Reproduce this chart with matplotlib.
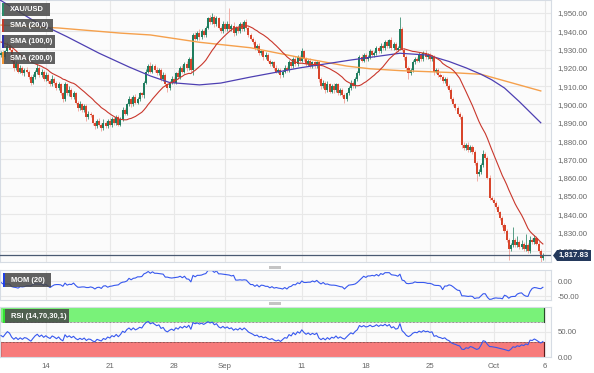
import numpy as np
import matplotlib
matplotlib.use("Agg")
import matplotlib.pyplot as plt
from matplotlib.patches import Rectangle, Polygon

plt.rcParams['font.family'] = ['Liberation Sans', 'DejaVu Sans']

# ---------------- data (4-hour candles, XAU/USD) ----------------
# closes before the visible window (needed for SMA20 / MOM / RSI)
pre_closes = [1936, 1938, 1935, 1933, 1934, 1932, 1935, 1938, 1941, 1939,
              1942, 1940, 1943, 1941, 1938, 1936, 1937, 1933, 1930, 1928,
              1925, 1927, 1929, 1926, 1927]

closes = [
    1928, 1926, 1929, 1932, 1930, 1924, 1920, 1922, 1918, 1920, 1917, 1919, 1918, 1915, 1912,
    1915, 1918, 1920, 1916, 1918, 1914, 1916, 1913, 1911, 1914, 1912, 1909, 1911, 1906, 1903,
    1911, 1906, 1908, 1904, 1906, 1901, 1898, 1900, 1897, 1899, 1893, 1895, 1894, 1890, 1888,
    1891, 1889, 1887, 1890, 1888, 1891, 1889, 1892, 1890, 1893, 1889, 1892, 1897, 1895, 1900,
    1903, 1900, 1904, 1901, 1903, 1906, 1905, 1912, 1918, 1921, 1918, 1921, 1919, 1917, 1919,
    1914, 1916, 1911, 1909, 1912, 1914, 1912, 1917, 1915, 1920, 1918, 1922, 1920, 1925, 1919,
    1938, 1936, 1939, 1937, 1940, 1938, 1942, 1947, 1945, 1948, 1944, 1947, 1942, 1940, 1944,
    1941, 1944, 1941, 1943, 1939, 1942, 1940, 1944, 1941, 1945, 1942, 1938, 1936, 1934, 1931,
    1932, 1928, 1929, 1926, 1927, 1924, 1922, 1923, 1920, 1918, 1919, 1916, 1918, 1920, 1919,
    1923, 1921, 1925, 1922, 1926, 1924, 1929, 1925, 1922, 1924, 1921, 1923, 1921, 1923, 1914,
    1910, 1912, 1908, 1911, 1907, 1910, 1908, 1911, 1906, 1908, 1905, 1903, 1906, 1909, 1912,
    1910, 1914, 1917, 1926, 1924, 1927, 1925, 1926, 1929, 1927, 1928, 1931, 1929, 1932, 1931,
    1934, 1932, 1935, 1931, 1933, 1930, 1931, 1941, 1930, 1926, 1920, 1917, 1919, 1923, 1925,
    1924, 1927, 1925, 1928, 1926, 1927, 1925, 1926, 1918, 1919, 1916, 1915, 1913, 1914, 1910,
    1908, 1903, 1900, 1898, 1895, 1893, 1878, 1876, 1878, 1875, 1877, 1874, 1868, 1862, 1863,
    1867, 1873, 1871, 1860, 1849, 1848, 1846, 1844, 1841, 1838, 1834, 1831, 1826, 1821, 1823,
    1826, 1823, 1825, 1822, 1824, 1821, 1823, 1820, 1826, 1825, 1827, 1824, 1820, 1816, 1817.83,
]

wick_up = [
    1, 1.5, 1, 2, 1, 1.5, 1, 2, 1, 1.5, 1, 1, 1.5, 1, 1,
    1.5, 1, 2, 1, 1.5, 1, 1.5, 1, 1, 2, 1, 1, 1.5, 1, 1,
    1.5, 1, 2, 1, 1.5, 1, 1, 2, 1, 1.5, 1, 1.5, 1, 1, 1,
    1, 1.5, 1, 2, 1, 1, 1.5, 1, 1, 1.5, 1, 1, 1.5, 1, 1,
    1.5, 1, 1, 1.5, 1, 1, 1, 1, 1.5, 1, 2, 1, 1, 1.5, 1,
    1, 1.5, 1, 1, 1, 1.5, 1, 1, 2, 1, 1.5, 1, 2, 1, 1,
    1, 1.5, 1, 2, 1, 1.5, 1, 1, 2, 2, 1, 1.5, 1, 1, 1.5,
    1, 1.5, 9, 1, 2, 1, 1.5, 1, 1, 1, 1.5, 1, 1, 1, 1,
    1, 1.5, 1, 1, 1.5, 1, 1, 1, 1, 1.5, 1, 1, 1, 1.5, 1,
    1.5, 1, 1, 1.5, 1, 1, 2, 1, 1, 1, 1.5, 1, 1, 1, 1,
    1, 1.5, 1, 2, 1, 1, 1.5, 1, 1, 1, 1, 1, 1, 1, 1.5,
    1, 1, 1.5, 1, 1.5, 1, 1, 1, 1.5, 1, 1, 1, 1, 1.5, 1,
    1, 1.5, 1, 2, 1, 1, 1, 7, 1.5, 1, 1, 1, 1, 1.5, 1,
    1, 1.5, 1, 1, 1.5, 1, 1, 1, 1, 1, 1, 1, 1, 1, 1,
    1, 1, 1, 1, 1, 1, 1, 1.5, 1, 1.5, 1, 1, 1, 1, 2,
    1, 2, 1, 1, 1.5, 1, 1, 1, 1, 1, 1, 1, 1, 1, 1.5,
    7, 1, 3, 1, 2, 1, 6, 1.5, 2, 1, 1.5, 1, 1.5, 1, 1,
]

wick_dn = [
    1, 1.5, 1, 1, 1, 1, 1.5, 1, 1, 1, 1, 1.5, 1, 1, 1.5,
    1, 1, 1.5, 1, 1, 1, 1, 1.5, 1, 1, 1.5, 1, 1, 1, 1.5,
    1, 1, 1.5, 1, 1, 1, 1.5, 1, 1, 1, 2, 1, 1, 1, 1.5,
    1, 1, 1.5, 1, 1, 1, 1, 1.5, 1, 1, 1, 1, 1, 1, 1,
    1, 1.5, 1, 1, 1, 1, 1, 1.5, 1, 1, 1, 1, 1, 1, 1,
    1, 1, 1, 2, 1, 1, 1, 1, 1, 1, 1, 1, 1.5, 1, 1,
    3, 1, 1, 1.5, 1, 1, 1, 1, 1, 1, 1.5, 1, 1, 1, 1,
    1, 1, 1, 1, 1.5, 1, 1, 1, 1, 1, 1, 1, 1, 1, 1,
    1, 1, 1, 1.5, 1, 1, 1, 1, 1, 1, 1, 1.5, 1, 1, 1,
    1, 1, 1, 1, 1, 1, 1, 1, 1, 1, 1, 1, 1, 1, 1.5,
    1.5, 1, 1.5, 1, 1, 1, 1.5, 1, 1, 1, 1, 2, 1, 1, 1,
    1, 1, 1, 1, 1, 1, 1, 1, 1, 1, 1, 1, 1, 1, 1,
    1, 1, 1, 1, 1, 1, 1, 1, 1, 1.5, 1, 3, 1, 1, 1,
    1, 1, 1, 1, 1, 1, 1, 1, 2, 1, 1, 1, 1, 1, 1,
    1, 1, 1, 1, 1, 1, 2, 1, 1, 1, 1, 1, 1, 4, 1,
    1, 1, 1, 1, 1, 1, 1, 1, 1, 1, 1, 1, 1, 6, 1,
    1, 1, 1, 1, 1, 1, 1, 1, 1, 1, 1, 1, 1, 4, 1,
]

# longer moving averages (candle index, value)
sma100_idx = [-1, 15, 31, 46, 60, 70, 79, 93, 103, 117, 140, 164, 187, 200, 210,
              218, 225, 230, 236, 243, 253]
sma100_val = [1957.5, 1946, 1937, 1928, 1920.5, 1915.6, 1912, 1910.7, 1911.7, 1915, 1920,
              1924.3, 1928, 1927, 1923.5, 1920, 1916.5, 1913.5, 1909, 1901.5, 1890]
sma200_idx = [0, 27, 56, 70, 93, 117, 140, 162, 173, 187, 210, 225, 253]
sma200_val = [1943.4, 1941.8, 1939, 1938, 1934, 1931, 1925.7, 1921, 1919.5, 1918.5,
              1917.5, 1916.5, 1907.4]

price_ticks = [1820, 1830, 1840, 1850, 1860, 1870, 1880, 1890, 1900, 1910, 1920, 1930, 1940, 1950]
date_labels = ["14", "21", "28", "Sep", "11", "18", "25", "Oct", "6"]
date_idx = [21, 51, 81, 105, 141, 171, 201, 231, 255]
last_price = 1817.83

# ---------------- derived series ----------------
allc = np.array(pre_closes + closes, dtype=float)
npre = len(pre_closes)
n = len(closes)
xi = np.arange(n)
c = np.array(closes, dtype=float)
o = allc[npre - 1:npre - 1 + n]
hi = np.maximum(o, c) + np.array(wick_up[:n])
lo = np.minimum(o, c) - np.array(wick_dn[:n])

sma20 = np.convolve(allc, np.ones(20) / 20, mode='full')[:len(allc)]
sma20 = sma20[npre:]
mom = allc[npre:] - allc[npre - 20:npre - 20 + n]

d = np.diff(allc)
gain = np.clip(d, 0, None)
loss = np.clip(-d, 0, None)
P = 14
ag = gain[:P].mean()
al = loss[:P].mean()
rsi_all = np.full(len(allc), np.nan)
rsi_all[P] = 100 - 100 / (1 + ag / al)
for k in range(P + 1, len(allc)):
    ag = (ag * (P - 1) + gain[k - 1]) / P
    al = (al * (P - 1) + loss[k - 1]) / P
    rsi_all[k] = 100 - 100 / (1 + ag / al) if al > 0 else 100
rsi = rsi_all[npre:]

# ---------------- figure ----------------
W, H = 594, 373
fig = plt.figure(figsize=(W / 100, H / 100), dpi=100)
fig.patch.set_facecolor('white')


def axes_px(x0, y0, x1, y1):
    return fig.add_axes([x0 / W, 1 - y1 / H, (x1 - x0) / W, (y1 - y0) / H])


ax = axes_px(0, 0, 551, 262)
axm = axes_px(0, 270, 551, 300)
axr = axes_px(0, 307, 551, 357)

XL = (-0.47, 257.8)
GRID = '#e8e8e8'
TXT = '#666666'
SPINE = '#d6dce4'

for a in (ax, axm, axr):
    a.set_facecolor('#fbfbfb')
    a.set_xlim(*XL)
    a.set_xticks(date_idx)
    a.grid(True, color=GRID, lw=0.8)
    a.set_axisbelow(True)
    for s in a.spines.values():
        s.set_color(SPINE)
        s.set_linewidth(0.8)
    a.yaxis.tick_right()
    a.tick_params(axis='y', length=0, pad=4.5, labelsize=5.6, labelcolor=TXT)
    a.tick_params(axis='x', length=0, labelbottom=False)

# main candles
ax.set_ylim(1813.9, 1957.1)
ax.set_yticks(price_ticks)
ax.set_yticklabels([f"{v:,.2f}" for v in price_ticks])

up = c >= o
GREEN = '#1f7d5e'
RED = '#d8452b'
PINK = '#f0a299'
body_h = np.where(np.abs(c - o) < 0.4, 0.4, np.abs(c - o))
wcol = np.where(up, '#3d8f73', PINK)
ax.vlines(xi, lo, hi, colors=wcol, lw=0.6, zorder=2)
ax.bar(xi, body_h, bottom=np.minimum(o, c), width=0.95,
       color=np.where(up, GREEN, RED), linewidth=0, zorder=3)

ax.plot(sma200_idx, sma200_val, color='#f5a04c', lw=1.0, zorder=4)
ax.plot(sma100_idx, sma100_val, color='#4d3fb2', lw=0.9, zorder=4)
ax.plot(xi, sma20, color='#c9372c', lw=0.8, zorder=4)
ax.axhline(last_price, color='#4a5a72', lw=0.9, zorder=5)

# MOM
axm.set_ylim(-63, 38)
axm.set_yticks([0, -50])
axm.set_yticklabels(["0.00", "-50.00"])
axm.plot(xi, mom, color='#3758ee', lw=0.8)

# RSI
axr.set_ylim(0, 100)
axr.set_yticks([0, 50])
axr.set_yticklabels(["0.00", "50.00"])
xe = [-0.5, n - 0.5]
axr.fill_between(xe, 70, 100, color='#79f279', lw=0, zorder=1)
axr.fill_between(xe, 0, 30, color='#f77b7b', lw=0, zorder=1)
axr.plot(xe, [70, 70], color='#333333', lw=0.5, ls=(0, (1, 1)), zorder=2)
axr.plot(xe, [30, 30], color='#333333', lw=0.5, ls=(0, (1, 1)), zorder=2)
axr.plot([n - 0.5, n - 0.5], [70, 100], color='#2a4a2a', lw=0.8, zorder=2)
axr.plot([n - 0.5, n - 0.5], [0, 30], color='#5a1a1a', lw=0.8, zorder=2)
axr.plot([-0.45, -0.45], [0, 30], color='#5a1a1a', lw=1.0, zorder=2)
axr.plot(xi, rsi, color='#3758ee', lw=0.8, zorder=3)
axr.tick_params(axis='x', labelbottom=True, labelsize=5.6, labelcolor=TXT, pad=4)
axr.set_xticklabels(date_labels)


# ---------------- overlays (legend boxes, handles, price tag) ----------------
def rect_px(x0, y0, x1, y1, color, alpha=1.0):
    fig.patches.append(Rectangle((x0 / W, 1 - y1 / H), (x1 - x0) / W, (y1 - y0) / H,
                                 transform=fig.transFigure, color=color, alpha=alpha,
                                 lw=0, zorder=10))


def label_box(x0, y0, x1, y1, stripe, text):
    rect_px(x0, y0, x1, y1, '#484848', 0.86)
    rect_px(x0, y0, x0 + 2, y1, stripe)
    fig.text((x0 + 8) / W, 1 - ((y0 + y1) / 2 + 0.3) / H, text, color='white',
             fontsize=5.4, fontweight='bold', va='center', ha='left', zorder=11)


label_box(2, 3, 50, 16, '#2a8c6a', 'XAU/USD')
label_box(2, 19, 53, 32, '#c0392b', 'SMA (20,0)')
label_box(2, 35, 55, 48, '#2f2fa8', 'SMA (100,0)')
label_box(2, 52, 55, 64, '#f39431', 'SMA (200,0)')
label_box(3, 273, 51, 287, '#2040e6', 'MOM (20)')
label_box(3, 309, 69, 323, '#33e033', 'RSI (14,70,30,1)')

rect_px(269, 266, 281, 269, '#c4c4c4')
rect_px(269, 302, 281, 305, '#c4c4c4')

pts = [(553, 255.5), (557, 250), (591, 250), (591, 261), (557, 261)]
fig.patches.append(Polygon([(x / W, 1 - y / H) for x, y in pts], closed=True,
                           transform=fig.transFigure, color='#24395c', lw=0, zorder=10))
fig.text(574 / W, 1 - 255.8 / H, f"{last_price:,.2f}", color='white', fontsize=5.6,
         fontweight='bold', ha='center', va='center', zorder=11)

fig.savefig('out.png', dpi=100)
